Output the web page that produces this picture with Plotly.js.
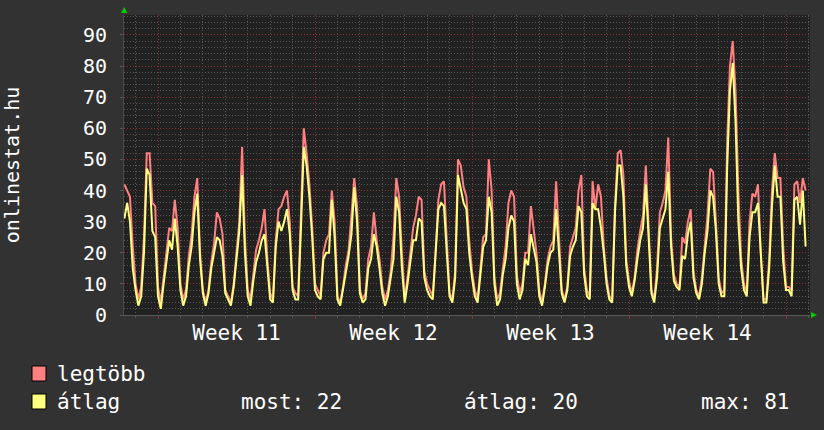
<!DOCTYPE html>
<html><head><meta charset="utf-8">
<script src="https://cdn.plot.ly/plotly-3.0.1.min.js"></script>
<style>html,body{margin:0;padding:0;background:#323232;}</style>
</head><body>
<div id="chart" style="width:824px;height:430px;"></div>
<script>
// time axis: days relative to Monday 00:00 of Week 11, 3-hour samples
const startDay = -1.5;
const stepDay = 0.125;

// "legtöbb" (maximum) series, 3-hour samples
const legtobb = [
  42, 40, 38, 22,
  10, 5, 9, 25, 52, 52, 36, 35,
  9, 4, 12, 22, 28, 27, 37, 28,
  10, 5, 8, 19, 26, 38, 44, 20,
  8, 4, 8, 17, 23, 33, 31, 26,
  8, 6, 4, 10, 20, 30, 54, 25,
  8, 5, 13, 21, 24, 28, 34, 18,
  7, 5, 24, 34, 35, 38, 40, 30,
  9, 7, 6, 30, 60, 52, 42, 28,
  10, 8, 6, 20, 24, 26, 40, 30,
  6, 4, 9, 16, 21, 32, 44, 35,
  8, 5, 7, 18, 22, 33, 24, 18,
  9, 5, 8, 14, 25, 44, 38, 20,
  5, 12, 20, 28, 32, 38, 37, 14,
  10, 8, 6, 20, 37, 42, 43, 24,
  7, 5, 14, 50, 48, 41, 38, 24,
  14, 8, 5, 15, 25, 26, 50, 40,
  12, 5, 7, 15, 22, 36, 40, 38,
  13, 7, 10, 20, 20, 35, 27, 20,
  8, 4, 10, 18, 22, 24, 43, 25,
  8, 5, 9, 22, 25, 28, 40, 45,
  15, 8, 6, 43, 34, 42, 38, 22,
  12, 6, 5, 35, 52, 53, 45, 18,
  11, 7, 12, 21, 27, 32, 48, 30,
  8, 5, 15, 33, 36, 40, 57, 25,
  13, 10, 9, 25, 23, 30, 34, 14,
  8, 6, 12, 22, 32, 47, 46, 30,
  12, 7, 8, 55, 80, 88, 72, 40,
  18, 10, 7, 30, 39, 38, 42, 20,
  5, 5, 18, 40, 52, 44, 44, 22,
  9, 9, 8, 42, 43, 36, 44, 40
];

// "átlag" (average) series, 3-hour samples
const atlag = [
  31, 36, 30, 15,
  8, 3, 6, 20, 47, 45, 27, 25,
  6, 2, 10, 18, 24, 21, 31, 22,
  8, 3, 6, 16, 22, 33, 39, 18,
  7, 3, 7, 15, 20, 25, 24, 19,
  7, 5, 3, 9, 18, 27, 45, 20,
  6, 3, 11, 17, 20, 24, 26, 14,
  5, 4, 22, 30, 27, 30, 34, 26,
  8, 5, 5, 28, 54, 48, 38, 25,
  8, 6, 5, 18, 20, 20, 37, 25,
  5, 3, 8, 14, 19, 26, 41, 30,
  7, 4, 5, 15, 18, 26, 22, 15,
  7, 3, 6, 12, 18, 38, 33, 15,
  4, 10, 18, 24, 24, 31, 30, 12,
  8, 6, 5, 18, 34, 36, 35, 20,
  6, 4, 12, 45, 40, 36, 34, 20,
  12, 6, 4, 13, 22, 24, 38, 33,
  10, 3, 5, 13, 18, 28, 32, 30,
  10, 5, 8, 18, 16, 26, 22, 17,
  6, 3, 9, 16, 20, 21, 34, 20,
  7, 4, 8, 19, 22, 24, 35, 33,
  13, 6, 5, 36, 34, 34, 28, 20,
  10, 5, 4, 33, 48, 48, 38, 16,
  9, 6, 11, 18, 24, 28, 42, 25,
  7, 4, 12, 28, 31, 34, 46, 22,
  11, 9, 8, 19, 18, 26, 30, 12,
  7, 5, 10, 20, 27, 40, 38, 27,
  10, 6, 6, 47, 72, 81, 62, 30,
  15, 8, 6, 25, 33, 33, 36, 18,
  4, 4, 15, 35, 48, 38, 38, 17,
  8, 8, 6, 37, 38, 29, 40, 22
];

const seriesNames = ['legtöbb', 'átlag'];
const seriesColors = ['#ff8080', '#ffff80'];
const weekStarts = [0, 7, 14, 21, 28];
const weekMids = [3.5, 10.5, 17.5, 24.5];
const weekLabels = ['Week 11', 'Week 12', 'Week 13', 'Week 14'];
const statLabels = ['most: 22', 'átlag: 20', 'max: 81'];
const yTitle = 'onlinestat.hu';

const t = legtobb.map((_, i) => startDay + i * stepDay);

const FONT = 'DejaVu Sans Mono, monospace';
const RED_GRID = '#8a3232';
const GRAY_GRID = '#555555';
const DOTS = '1px,2px';

const traces = [
  {x: t, y: legtobb, type: 'scatter', mode: 'lines', name: seriesNames[0],
   line: {color: seriesColors[0], width: 2}, hoverinfo: 'skip'},
  {x: t, y: atlag, type: 'scatter', mode: 'lines', name: seriesNames[1],
   line: {color: seriesColors[1], width: 2}, hoverinfo: 'skip'},
  {x: [], y: [], xaxis: 'x2', type: 'scatter', mode: 'lines', showlegend: false}
];

const xRange = [-1.516, 29.07];

function px(x) { return (x - 124) / 686; }
function py(y) { return (315 - y) / 300; }

const txt = (s) => ({family: FONT, size: s, color: '#ffffff'});

const layout = {
  width: 824, height: 430,
  margin: {l: 124, r: 14, t: 15, b: 115},
  paper_bgcolor: '#323232',
  plot_bgcolor: '#212121',
  showlegend: false,
  font: txt(20),
  xaxis: {
    range: xRange, tickmode: 'array', tickvals: weekStarts,
    showticklabels: false, showgrid: true, gridcolor: RED_GRID, griddash: DOTS, gridwidth: 1,
    ticks: 'outside', ticklen: 3, tickcolor: RED_GRID,
    zeroline: false, showline: true, linecolor: '#5a5a5a', linewidth: 1,
    minor: {tickmode: 'linear', tick0: 0, dtick: 1, showgrid: true, gridcolor: GRAY_GRID,
            griddash: DOTS, ticks: 'outside', ticklen: 2, tickcolor: '#555555'}
  },
  xaxis2: {
    range: xRange, overlaying: 'x', anchor: 'y', side: 'bottom',
    tickmode: 'array', tickvals: weekMids, ticktext: weekLabels,
    showgrid: false, zeroline: false, showline: false, ticks: '',
    ticklabelstandoff: 3, tickfont: txt(21)
  },
  yaxis: {
    range: [0, 96.4], tickmode: 'linear', tick0: 0, dtick: 10,
    showgrid: true, gridcolor: RED_GRID, griddash: DOTS, gridwidth: 1,
    zeroline: false, showline: true, linecolor: '#4a4a4a',
    ticks: 'outside', ticklen: 3, tickcolor: '#555555', ticklabelstandoff: 9,
    tickfont: txt(20),
    title: {text: yTitle, standoff: 57, font: txt(20)},
    minor: {dtick: 2, showgrid: true, gridcolor: GRAY_GRID, griddash: DOTS}
  },
  shapes: [
    {type: 'rect', xref: 'paper', yref: 'paper', x0: px(32), x1: px(46), y0: py(381), y1: py(366),
     fillcolor: seriesColors[0], line: {color: '#000000', width: 1}},
    {type: 'rect', xref: 'paper', yref: 'paper', x0: px(32), x1: px(46), y0: py(409), y1: py(394),
     fillcolor: seriesColors[1], line: {color: '#000000', width: 1}},
    {type: 'path', xref: 'paper', yref: 'paper',
     path: `M ${px(121)},${py(13)} L ${px(127.5)},${py(13)} L ${px(124.2)},${py(7)} Z`,
     fillcolor: '#00cc00', line: {width: 0}},
    {type: 'path', xref: 'paper', yref: 'paper',
     path: `M ${px(811)},${py(312)} L ${px(811)},${py(318)} L ${px(817)},${py(315)} Z`,
     fillcolor: '#00cc00', line: {width: 0}}
  ],
  annotations: [
    {xref: 'paper', yref: 'paper', x: px(55), y: py(374), xanchor: 'left', yanchor: 'middle',
     text: seriesNames[0], showarrow: false, font: txt(21)},
    {xref: 'paper', yref: 'paper', x: px(55), y: py(402), xanchor: 'left', yanchor: 'middle',
     text: seriesNames[1], showarrow: false, font: txt(21)},
    {xref: 'paper', yref: 'paper', x: px(239), y: py(402), xanchor: 'left', yanchor: 'middle',
     text: statLabels[0], showarrow: false, font: txt(21)},
    {xref: 'paper', yref: 'paper', x: px(462), y: py(402), xanchor: 'left', yanchor: 'middle',
     text: statLabels[1], showarrow: false, font: txt(21)},
    {xref: 'paper', yref: 'paper', x: px(699), y: py(402), xanchor: 'left', yanchor: 'middle',
     text: statLabels[2], showarrow: false, font: txt(21)}
  ]
};

Plotly.newPlot('chart', traces, layout, {displayModeBar: false, staticPlot: true});
</script>
</body></html>
